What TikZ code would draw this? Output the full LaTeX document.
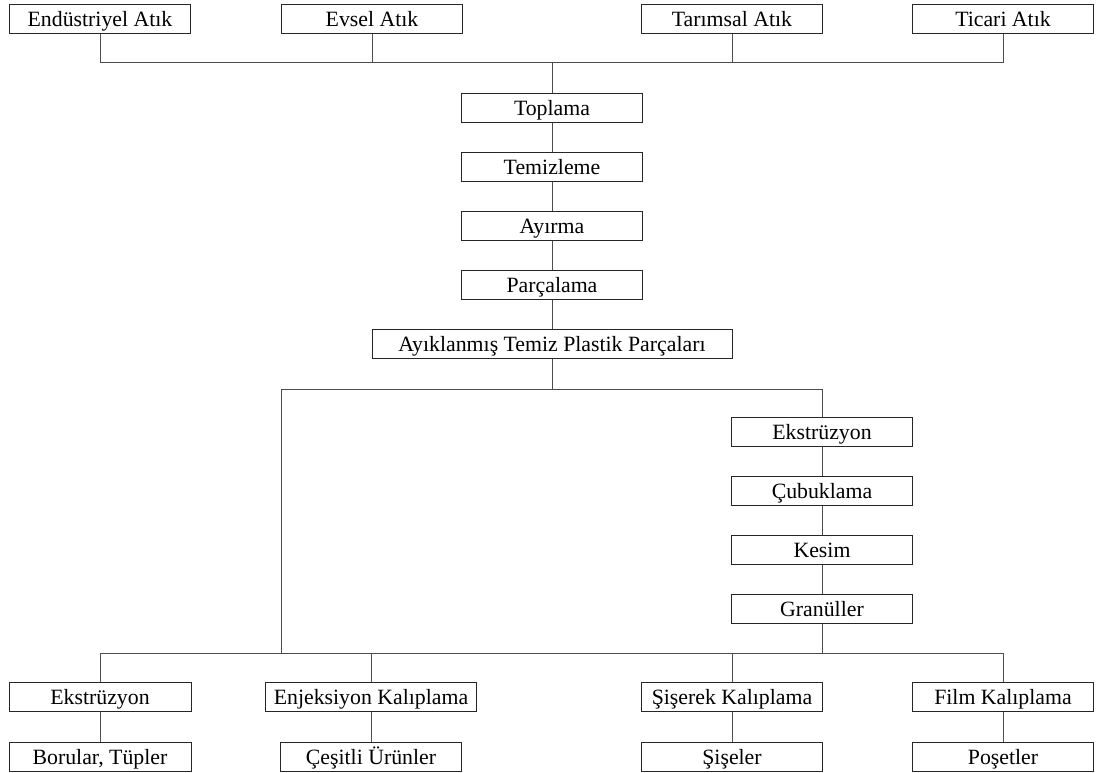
\documentclass[tikz,border=0pt]{standalone}
\usepackage{fontspec}
\setmainfont{Liberation Serif}
\usetikzlibrary{calc}

\tikzset{
  box/.style={draw=black!85, line width=1pt, fill=white, inner sep=0pt,
    minimum width=181pt, minimum height=29pt,
    text height=16.5pt, text depth=1.5pt,
    font=\fontsize{21.8}{26}\selectfont},
  link/.style={draw=black!70, line width=1pt}
}

\begin{document}
\begin{tikzpicture}[x=1pt,y=-1pt]

\useasboundingbox (0,0) rectangle (1097,773);

\def\ysrc{19};
\def\ybusA{63};
\def\ybusB{389};
\def\ybusC{653};
\def\yproc{697};
\def\yprod{757};
\def\xmain{552};
\def\xgran{822};

% kaynaklar
\node[box] (S1) at (100,\ysrc) {Endüstriyel Atık};
\node[box] (S2) at (372,\ysrc) {Evsel Atık};
\node[box] (S3) at (732,\ysrc) {Tarımsal Atık};
\node[box] (S4) at (1003,\ysrc) {Ticari Atık};

% ana hat
\foreach \y/\n/\t in {108/P1/Toplama, 167/P2/Temizleme, 226/P3/Ayırma, 285/P4/Parçalama}
{
\node[box] (\n) at (\xmain,\y) {\t};
}
\node[box, minimum width=360pt] (C) at (\xmain,344) {Ayıklanmış Temiz Plastik Parçaları};

% granul hatti
\foreach \y/\n/\t in {432/G1/Ekstrüzyon, 491/G2/Çubuklama, 550/G3/Kesim, 609/G4/Granüller}
{
\node[box] (\n) at (\xgran,\y) {\t};
}

% islemler ve urunler
\node[box, minimum width=182pt] (M1) at (100,\yproc) {Ekstrüzyon};
\node[box, minimum width=211pt] (M2) at (371,\yproc) {Enjeksiyon Kalıplama};
\node[box] (M3) at (732,\yproc) {Şişerek Kalıplama};
\node[box] (M4) at (1003,\yproc) {Film Kalıplama};

\node[box, minimum width=182pt] (R1) at (100,\yprod) {Borular, Tüpler};
\node[box] (R2) at (371,\yprod) {Çeşitli Ürünler};
\node[box] (R3) at (732,\yprod) {Şişeler};
\node[box] (R4) at (1003,\yprod) {Poşetler};

\coordinate (T) at (\xmain,\ybusA);
\coordinate (Ltop) at (281,\ybusB);
\coordinate (Lbot) at (281,\ybusC);

% baglantilar
\draw[link] (S1.south) -- (S1.south |- T) -- (S4.south |- T) -- (S4.south);
\draw[link] (S2.south) -- (S2.south |- T);
\draw[link] (S3.south) -- (S3.south |- T);
\draw[link] (T) -- (P1.north);

\draw[link] (P1) -- (P2);
\draw[link] (P2) -- (P3);
\draw[link] (P3) -- (P4);
\draw[link] (P4) -- (C);

\draw[link] (C.south) -- (C.south |- Ltop);
\draw[link] (Lbot) -- (Ltop) -- (G1.north |- Ltop) -- (G1.north);
\draw[link] (G1) -- (G2);
\draw[link] (G2) -- (G3);
\draw[link] (G3) -- (G4);
\draw[link] (G4.south) -- (G4.south |- Lbot);

\draw[link] (M1.north) -- (M1.north |- Lbot) -- (M4.north |- Lbot) -- (M4.north);
\draw[link] (M2.north) -- (M2.north |- Lbot);
\draw[link] (M3.north) -- (M3.north |- Lbot);

\foreach \i in {1,...,4}
{
\draw[link] (M\i) -- (R\i);
}

\end{tikzpicture}
\end{document}
